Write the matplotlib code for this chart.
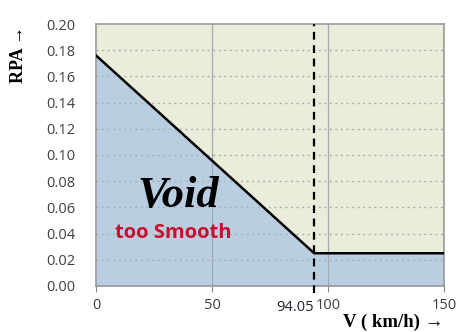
import matplotlib.pyplot as plt

# speed (km/h) and RPA along the limit line
speed = [0, 94.05, 150]
rpa = [0.176, 0.025, 0.025]
v_break = 94.05

x_ticks = [0, 50, 100, 150]
y_ticks = [0.00, 0.02, 0.04, 0.06, 0.08, 0.10, 0.12, 0.14, 0.16, 0.18, 0.20]

fig = plt.figure(figsize=(4.6, 3.32), dpi=100)
ax = fig.add_axes([0.2087, 0.1386, 0.9652 - 0.2087, 0.9277 - 0.1386])

ax.fill_between(speed, 0, rpa, color="#b9cfe1", lw=0, zorder=0)
ax.fill_between(speed, rpa, 0.2, color="#e9edda", lw=0, zorder=0)

for y in y_ticks[1:-1]:
    ax.axhline(y, color="#acb0b2", lw=1.0, ls=(0, (1.5, 2.5)), zorder=1)
for x in x_ticks[1:-1]:
    ax.axvline(x, color="#a2aab2", lw=0.9, zorder=1)

ax.plot(speed, rpa, color="black", lw=1.8, zorder=3)
ax.plot([v_break, v_break], [-0.005, 0.2], color="black", lw=1.6,
        ls=(0, (3.5, 2.5)), clip_on=False, zorder=4)

ax.set_xlim(0, 150)
ax.set_ylim(0, 0.2)
ax.set_xticks(x_ticks)
ax.set_yticks(y_ticks)
ax.yaxis.set_major_formatter(lambda y, _: f"{y:.2f}")
ax.tick_params(axis="x", length=4, color="#888888", labelcolor="#404040",
               labelsize=10.5, pad=5)
ax.tick_params(axis="y", length=0, labelcolor="#404040", labelsize=10.5, pad=15)
for lbl in ax.get_xticklabels() + ax.get_yticklabels():
    lbl.set_family("Open Sans")
for s in ax.spines.values():
    s.set_color("#9a9a9a")
    s.set_linewidth(1.2)

ax.text(v_break - 0.3, -0.0105, "94.05", ha="right", va="top", fontsize=10.5,
        family="Open Sans", color="#202030")

ax.text(35.5, 0.060, "Void", ha="center", va="baseline", fontsize=32,
        family="Liberation Serif", style="italic", weight="bold", color="black")
ax.text(8, 0.037, "too Smooth", ha="left", va="baseline", fontsize=14.5,
        family="Open Sans", weight="bold", color="#c8102e")

fig.text(0.04, 0.835, "RPA →", rotation=90, ha="center", va="center",
         fontsize=13, weight="bold", family=["Liberation Serif", "DejaVu Serif"])
fig.text(0.965, 0.004, "V ( km/h) →", ha="right", va="bottom",
         fontsize=13.5, weight="bold", family=["Liberation Serif", "DejaVu Serif"])

fig.savefig("out.png", dpi=100)
